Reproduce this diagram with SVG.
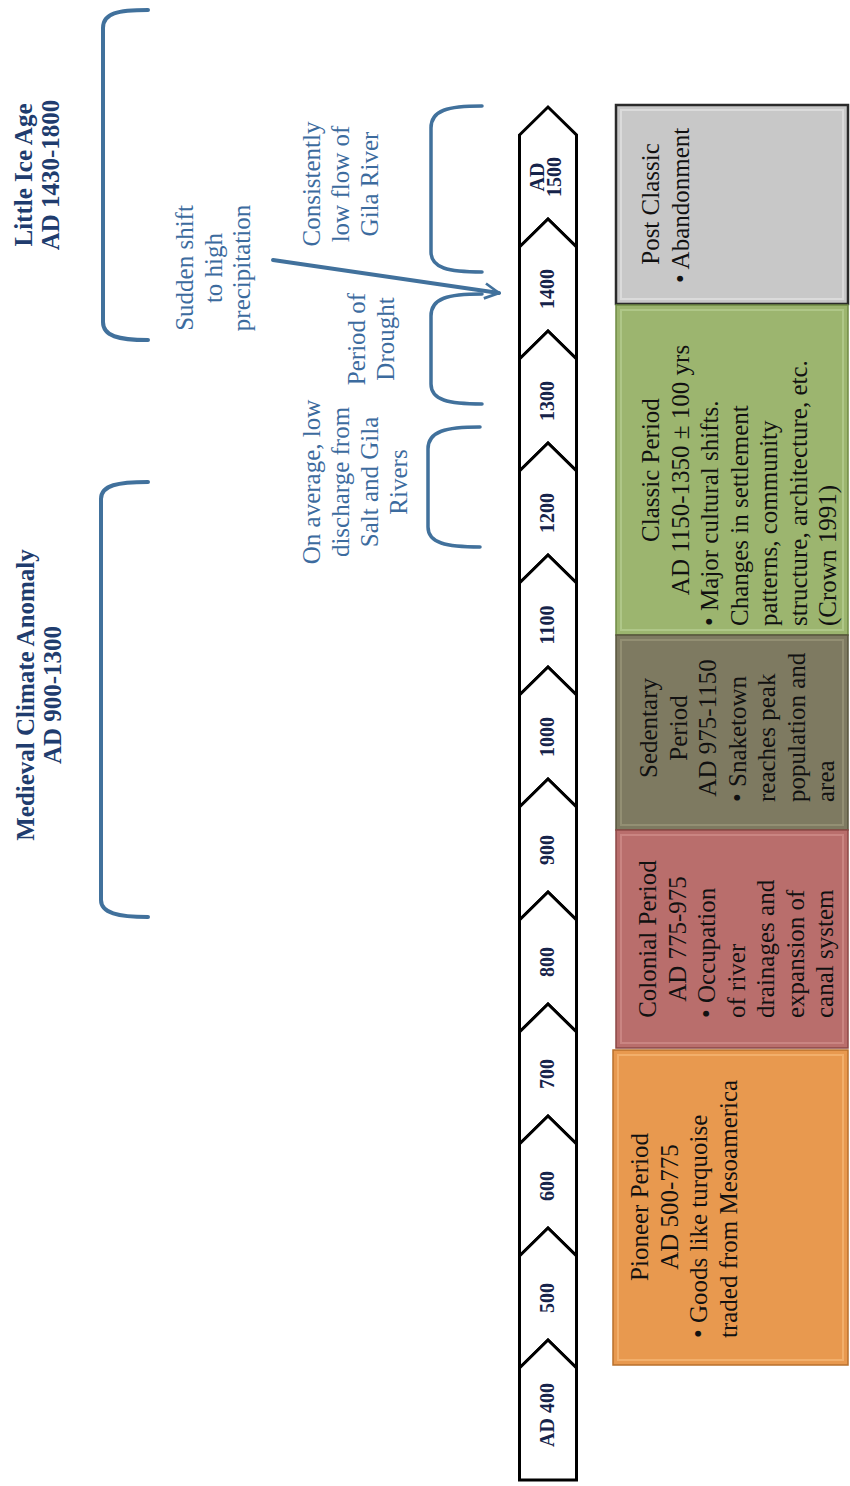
<svg xmlns="http://www.w3.org/2000/svg" width="850" height="1486" viewBox="0 0 850 1486">
  <style>
    .seg { fill: #ffffff; stroke: #000000; stroke-width: 3; stroke-linejoin: miter; }
    .segt { font-family: "Liberation Serif", serif; font-weight: bold; font-size: 20px; fill: #16234a; text-anchor: middle; }
    .brk { fill: none; stroke: #41719c; stroke-width: 4; stroke-linecap: round; }
    .brks { fill: none; stroke: #41719c; stroke-width: 3.5; stroke-linecap: round; }
    .title { font-family: "Liberation Serif", serif; font-weight: bold; font-size: 25px; fill: #203c6e; text-anchor: middle; }
    .note { font-family: "Liberation Serif", serif; font-size: 25px; fill: #3c6b9e; text-anchor: middle; }
    .bt { font-family: "Liberation Serif", serif; font-size: 25px; fill: #111111; }
    .c { text-anchor: middle; }
    .l { text-anchor: start; }
    .inner { fill: none; stroke-width: 2; opacity: 0.7; }
  </style>
  <defs>
    <marker id="arrowhead" viewBox="0 0 12 12" refX="10.5" refY="6" markerWidth="4.5" markerHeight="4.5" orient="auto" markerUnits="strokeWidth">
      <path d="M1,1 L10.5,6 L1,11" fill="none" stroke="#41719c" stroke-width="1.8" stroke-linejoin="miter"/>
    </marker>
  </defs>

  <rect width="850" height="1486" fill="#ffffff"/>

  <!-- Climate periods -->
  <g id="little-ice-age">
    <path class="brk" d="M148,10 C118,10 103,13 103,28 L103,322 C103,336 118,340 148,340"/>
    <text class="title" transform="translate(31.5,175) rotate(-90)">Little Ice Age</text>
    <text class="title" transform="translate(58.5,175) rotate(-90)">AD 1430-1800</text>
  </g>

  <g id="medieval-climate-anomaly">
    <path class="brk" d="M148,482 C118,482 101,485 101,499 L101,900 C101,913 118,917 148,917"/>
    <text class="title" transform="translate(33.5,695) rotate(-90)">Medieval Climate Anomaly</text>
    <text class="title" transform="translate(60.5,695) rotate(-90)">AD 900-1300</text>
  </g>

  <!-- River / precipitation notes -->
  <g id="sudden-shift">
    <text class="note" transform="translate(193,268) rotate(-90)">Sudden shift</text>
    <text class="note" transform="translate(221.5,268) rotate(-90)">to high</text>
    <text class="note" transform="translate(250,268) rotate(-90)">precipitation</text>
  </g>

  <g id="low-flow-gila">
    <path class="brks" d="M482,106 C448,106 431,110 431,128 L431,252 C431,268 448,272 482,272"/>
    <text class="note" transform="translate(320,184) rotate(-90)">Consistently</text>
    <text class="note" transform="translate(349,184) rotate(-90)">low flow of</text>
    <text class="note" transform="translate(378,184) rotate(-90)">Gila River</text>
  </g>

  <g id="drought">
    <path class="brks" d="M482,294 C448,294 431,298 431,316 L431,384 C431,400 448,404 482,404"/>
    <text class="note" transform="translate(365,339) rotate(-90)">Period of</text>
    <text class="note" transform="translate(394,339) rotate(-90)">Drought</text>
  </g>

  <g id="low-discharge">
    <path class="brks" d="M480,427 C446,427 428,431 428,449 L428,527 C428,543 446,547 480,547"/>
    <text class="note" transform="translate(320,482) rotate(-90)">On average, low</text>
    <text class="note" transform="translate(349,482) rotate(-90)">discharge from</text>
    <text class="note" transform="translate(378,482) rotate(-90)">Salt and Gila</text>
    <text class="note" transform="translate(407,482) rotate(-90)">Rivers</text>
  </g>

  <!-- Timeline chevrons, AD 1500 at the top down to AD 400 -->
  <g id="seg-ad1500">
    <polygon class="seg" points="519.5,135 548,107 576.5,135 576.5,247 548,219 519.5,247"/>
    <text class="segt" transform="translate(544,177) rotate(-90)">AD</text>
    <text class="segt" transform="translate(561,177) rotate(-90)">1500</text>
  </g>
  <g id="seg-1400">
    <polygon class="seg" points="519.5,247 548,219 576.5,247 576.5,359 548,331 519.5,359"/>
    <text class="segt" transform="translate(554,289) rotate(-90)">1400</text>
  </g>
  <g id="seg-1300">
    <polygon class="seg" points="519.5,359 548,331 576.5,359 576.5,471 548,443 519.5,471"/>
    <text class="segt" transform="translate(554,401) rotate(-90)">1300</text>
  </g>
  <g id="seg-1200">
    <polygon class="seg" points="519.5,471 548,443 576.5,471 576.5,583 548,555 519.5,583"/>
    <text class="segt" transform="translate(554,513) rotate(-90)">1200</text>
  </g>
  <g id="seg-1100">
    <polygon class="seg" points="519.5,583 548,555 576.5,583 576.5,695 548,667 519.5,695"/>
    <text class="segt" transform="translate(554,625) rotate(-90)">1100</text>
  </g>
  <g id="seg-1000">
    <polygon class="seg" points="519.5,695 548,667 576.5,695 576.5,807 548,779 519.5,807"/>
    <text class="segt" transform="translate(554,737) rotate(-90)">1000</text>
  </g>
  <g id="seg-900">
    <polygon class="seg" points="519.5,807 548,779 576.5,807 576.5,920 548,892 519.5,920"/>
    <text class="segt" transform="translate(554,850) rotate(-90)">900</text>
  </g>
  <g id="seg-800">
    <polygon class="seg" points="519.5,920 548,892 576.5,920 576.5,1032 548,1004 519.5,1032"/>
    <text class="segt" transform="translate(554,962) rotate(-90)">800</text>
  </g>
  <g id="seg-700">
    <polygon class="seg" points="519.5,1032 548,1004 576.5,1032 576.5,1144 548,1116 519.5,1144"/>
    <text class="segt" transform="translate(554,1074) rotate(-90)">700</text>
  </g>
  <g id="seg-600">
    <polygon class="seg" points="519.5,1144 548,1116 576.5,1144 576.5,1256 548,1228 519.5,1256"/>
    <text class="segt" transform="translate(554,1186) rotate(-90)">600</text>
  </g>
  <g id="seg-500">
    <polygon class="seg" points="519.5,1256 548,1228 576.5,1256 576.5,1368 548,1340 519.5,1368"/>
    <text class="segt" transform="translate(554,1298) rotate(-90)">500</text>
  </g>
  <g id="seg-ad400">
    <polygon class="seg" points="519.5,1368 548,1340 576.5,1368 576.5,1480 519.5,1480"/>
    <text class="segt" transform="translate(554,1415) rotate(-90)">AD 400</text>
  </g>

  <!-- Cultural periods -->
  <g id="post-classic">
    <rect x="616" y="105" width="232" height="199" fill="#c8c8c8" stroke="#2a2a2a" stroke-width="2.5"/>
    <rect class="inner" x="621" y="110" width="222" height="189" stroke="#e2e2e2"/>
    <text class="bt c" transform="translate(659,204) rotate(-90)">Post Classic</text>
    <text class="bt l" transform="translate(688.5,283) rotate(-90)">• Abandonment</text>
  </g>

  <g id="classic">
    <rect x="616" y="305" width="232" height="330" fill="#9cb56f" stroke="#6f8a44" stroke-width="1.5"/>
    <rect class="inner" x="621" y="310" width="222" height="320" stroke="#b8cf93"/>
    <text class="bt c" transform="translate(659,470) rotate(-90)">Classic Period</text>
    <text class="bt c" transform="translate(688.5,470) rotate(-90)">AD 1150-1350 ± 100 yrs</text>
    <text class="bt l" transform="translate(718,626) rotate(-90)">• Major cultural shifts.</text>
    <text class="bt l" transform="translate(747.5,626) rotate(-90)">Changes in settlement</text>
    <text class="bt l" transform="translate(777,626) rotate(-90)">patterns, community</text>
    <text class="bt l" transform="translate(806.5,626) rotate(-90)">structure, architecture, etc.</text>
    <text class="bt l" transform="translate(836,626) rotate(-90)">(Crown 1991)</text>
  </g>

  <g id="sedentary">
    <rect x="616" y="635" width="232" height="195" fill="#7e7a61" stroke="#57543d" stroke-width="1.5"/>
    <rect class="inner" x="621" y="640" width="222" height="185" stroke="#9c987b"/>
    <text class="bt c" transform="translate(657,728) rotate(-90)">Sedentary</text>
    <text class="bt c" transform="translate(686.5,728) rotate(-90)">Period</text>
    <text class="bt c" transform="translate(716,728) rotate(-90)">AD 975-1150</text>
    <text class="bt l" transform="translate(745.5,802) rotate(-90)">• Snaketown</text>
    <text class="bt l" transform="translate(775,802) rotate(-90)">reaches peak</text>
    <text class="bt l" transform="translate(804.5,802) rotate(-90)">population and</text>
    <text class="bt l" transform="translate(834,802) rotate(-90)">area</text>
  </g>

  <g id="colonial">
    <rect x="616" y="830" width="232" height="218" fill="#b96e6c" stroke="#8c4846" stroke-width="1.5"/>
    <rect class="inner" x="621" y="835" width="222" height="208" stroke="#d28f8c"/>
    <text class="bt c" transform="translate(656,939) rotate(-90)">Colonial Period</text>
    <text class="bt c" transform="translate(685.5,939) rotate(-90)">AD 775-975</text>
    <text class="bt l" transform="translate(715,1018) rotate(-90)">• Occupation</text>
    <text class="bt l" transform="translate(744.5,1018) rotate(-90)">of river</text>
    <text class="bt l" transform="translate(774,1018) rotate(-90)">drainages and</text>
    <text class="bt l" transform="translate(803.5,1018) rotate(-90)">expansion of</text>
    <text class="bt l" transform="translate(833,1018) rotate(-90)">canal system</text>
  </g>

  <g id="pioneer">
    <rect x="613" y="1050" width="235" height="315" fill="#e8994f" stroke="#b8702c" stroke-width="1.5"/>
    <rect class="inner" x="618" y="1055" width="225" height="305" stroke="#f6b878"/>
    <text class="bt c" transform="translate(648,1207) rotate(-90)">Pioneer Period</text>
    <text class="bt c" transform="translate(677.5,1207) rotate(-90)">AD 500-775</text>
    <text class="bt l" transform="translate(707,1338) rotate(-90)">• Goods like turquoise</text>
    <text class="bt l" transform="translate(736.5,1338) rotate(-90)">traded from Mesoamerica</text>
  </g>

  <!-- Connectors -->
  <g id="connectors">
    <line x1="273" y1="260" x2="499" y2="293" stroke="#41719c" stroke-width="4" stroke-linecap="round" marker-end="url(#arrowhead)"/>
  </g>
</svg>
